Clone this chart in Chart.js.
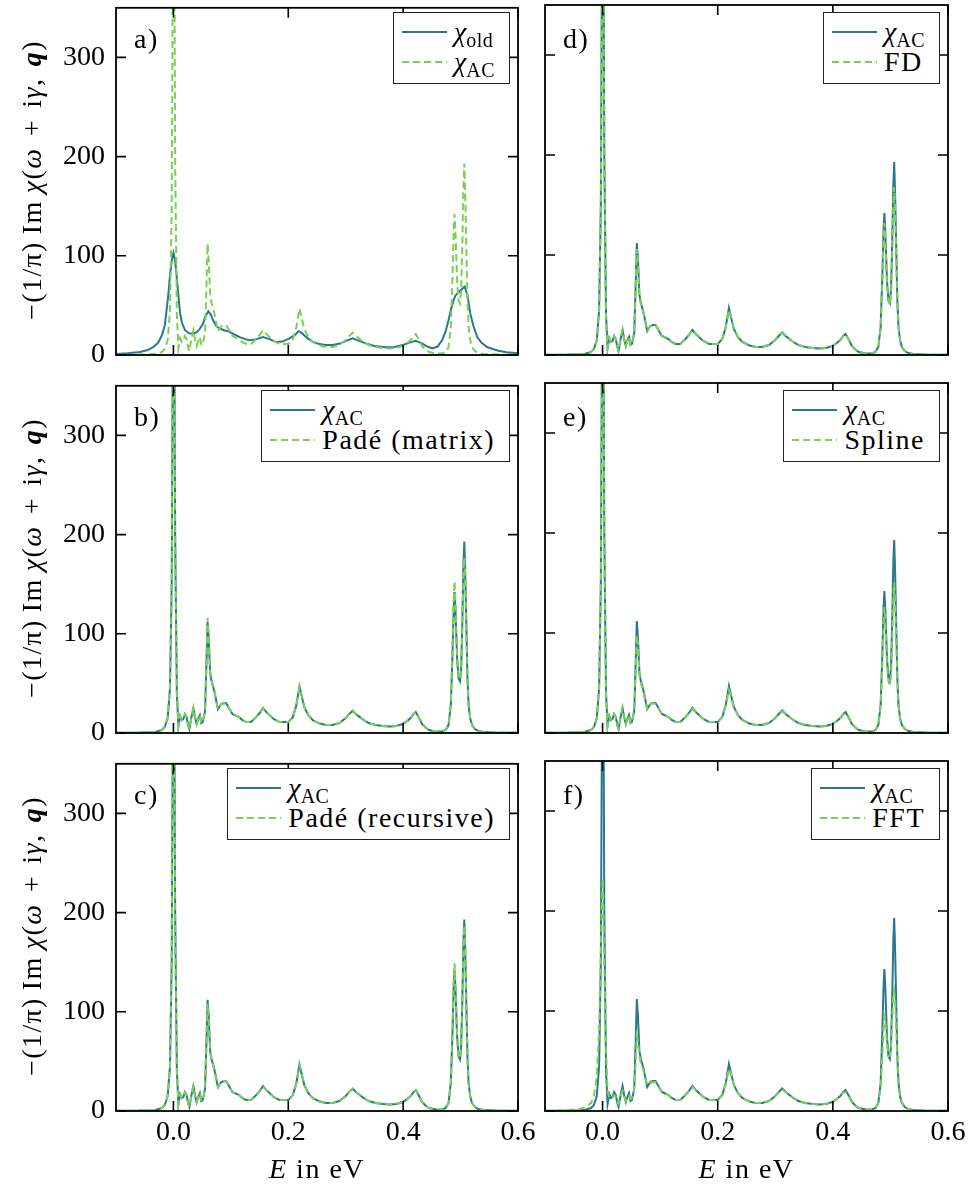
<!DOCTYPE html>
<html><head><meta charset="utf-8">
<script src="https://cdn.jsdelivr.net/npm/chart.js@4.4.1/dist/chart.umd.min.js"></script>
<style>
body{margin:0;background:#fff;}
#wrap{position:relative;width:973px;height:1190px;overflow:hidden;background:#fff;font-family:'Liberation Serif','DejaVu Serif',serif;color:#000;}
#wrap canvas{position:absolute;}
.txt{position:absolute;font-family:'Liberation Serif','DejaVu Serif',serif;font-size:28px;letter-spacing:1.5px;white-space:nowrap;z-index:5;}
.ytitle{position:absolute;font-family:'Liberation Serif','DejaVu Serif',serif;width:420px;height:34px;line-height:34px;text-align:center;font-size:28px;letter-spacing:1.4px;word-spacing:3px;white-space:nowrap;transform:rotate(-90deg);transform-origin:50% 50%;z-index:5;}
.legend{position:absolute;font-family:'Liberation Serif','DejaVu Serif',serif;background:#fff;border:1.5px solid #222;padding:4px 14px 6px 8px;z-index:6;font-size:28px;letter-spacing:1.5px;white-space:nowrap;}
.legend .row{display:flex;align-items:center;height:30px;}
.legend svg{margin-right:7px;flex:none;}
.legend span{font-family:'Liberation Serif','DejaVu Serif',serif;}
.chi{font-style:italic;letter-spacing:0;}
.sub{font-size:20px;position:relative;top:6px;letter-spacing:0.5px;}
</style></head><body><div id="wrap"></div>
<script>
// ---------------- data ----------------
const xTickValues = [0.0, 0.2, 0.4, 0.6];
const yTickValues = [0, 100, 200, 300];

const energy = [
 -0.1, -0.08, -0.06, -0.04, -0.03, -0.02, -0.015, -0.01, -0.006, -0.003,
 -0.001, 0.0, 0.001, 0.003, 0.006, 0.0087, 0.0116, 0.0145, 0.0173, 0.02,
 0.023, 0.0255, 0.0277, 0.031, 0.0347, 0.0375, 0.0404, 0.043, 0.046, 0.0485,
 0.051, 0.055, 0.0575, 0.0595, 0.0615, 0.064, 0.0665, 0.069, 0.072, 0.0775,
 0.083, 0.087, 0.092, 0.098, 0.103, 0.107, 0.1144, 0.12, 0.127, 0.135,
 0.144, 0.15, 0.156, 0.162, 0.1675, 0.175, 0.185, 0.2, 0.208, 0.214,
 0.2195, 0.223, 0.228, 0.235, 0.2427, 0.255, 0.2658, 0.277, 0.289, 0.3,
 0.306, 0.312, 0.318, 0.329, 0.34, 0.352, 0.365, 0.376, 0.388, 0.399,
 0.407, 0.413, 0.418, 0.422, 0.427, 0.433, 0.44, 0.445, 0.457, 0.468,
 0.474, 0.479, 0.483, 0.486, 0.488, 0.4895, 0.491, 0.494, 0.4965, 0.499,
 0.501, 0.503, 0.505, 0.5065, 0.508, 0.51, 0.512, 0.514, 0.517, 0.52,
 0.525, 0.531, 0.54, 0.56, 0.58, 0.6
];

const chiAC = [
 0.2, 0.3, 0.4, 0.8, 1.2, 3, 6, 15, 45, 150,
 400, 620, 500, 200, 40, 7, 17, 13, 14, 19,
 16, 8, 4, 15, 25, 16, 9, 14, 18, 10,
 11, 22, 70, 112, 95, 60, 52, 47, 40, 24,
 29, 30, 30, 24, 19, 18, 16, 13, 11, 11,
 16, 20, 25, 21, 18, 14, 11, 11, 16, 28,
 47, 38, 26, 18, 13, 9.5, 8, 8, 10, 15,
 19, 22.5, 19, 14, 10, 8, 7, 6.5, 7, 9,
 12, 15, 19, 21, 16, 9, 5, 3, 1.5, 1.5,
 3, 8, 28, 80, 125, 142, 125, 75, 55, 52,
 65, 110, 170, 193, 165, 110, 55, 28, 14, 8,
 4, 2, 1, 0.5, 0.3, 0.2
];

const padeMatrix = [
 0.2, 0.3, 0.4, 0.8, 1.2, 3, 6, 15, 45, 150,
 400, 620, 500, 200, 40, 7, 17, 13, 14, 19,
 16, 8, 4, 15, 25, 16, 9, 14, 18, 10,
 11, 22, 72, 116, 97, 61, 52, 47, 40, 24,
 29, 30, 30, 24, 19, 18, 16, 13, 11, 11,
 16, 20, 25, 21, 18, 14, 11, 11, 16, 28,
 46, 38, 26, 18, 13, 9.5, 8, 8, 10, 15,
 19, 22.5, 19, 14, 10, 8, 7, 6.5, 7, 9,
 12, 15, 19, 21, 16, 9, 5, 3, 1.5, 1.5,
 3, 8, 30, 88, 135, 153, 130, 78, 57, 54,
 65, 105, 160, 177, 160, 108, 55, 28, 14, 8,
 4, 2, 1, 0.5, 0.3, 0.2
];

const padeRecursive = [
 0.2, 0.3, 0.4, 0.8, 1.2, 3, 6, 15, 45, 150,
 400, 620, 500, 200, 40, 7, 17, 13, 14, 19,
 16, 8, 4, 15, 25, 16, 9, 14, 18, 10,
 11, 22, 68, 108, 93, 60, 52, 47, 40, 24,
 29, 30, 30, 24, 19, 18, 16, 13, 11, 11,
 16, 20, 25, 21, 18, 14, 11, 11, 16, 28,
 46, 38, 26, 18, 13, 9.5, 8, 8, 10, 15,
 19, 22.5, 19, 14, 10, 8, 7, 6.5, 7, 9,
 12, 15, 19, 21, 16, 9, 5, 3, 1.5, 1.5,
 3, 8, 29, 85, 132, 149, 130, 77, 56, 53,
 65, 108, 165, 187, 163, 110, 55, 28, 14, 8,
 4, 2, 1, 0.5, 0.3, 0.2
];

const finiteDiff = [
 0.2, 0.3, 0.4, 0.8, 1.2, 3, 6, 15, 45, 150,
 400, 620, 500, 200, 40, 7, 17, 13, 14, 19,
 16, 8, 4, 15, 25, 16, 9, 14, 18, 10,
 11, 22, 68, 106, 92, 59, 51, 46, 40, 24,
 29, 30, 30, 24, 19, 18, 16, 13, 11, 11,
 16, 20, 25, 21, 18, 14, 11, 11, 16, 28,
 45, 38, 26, 18, 13, 9.5, 8, 8, 10, 15,
 19, 22, 19, 14, 10, 8, 7, 6.5, 7, 9,
 12, 15, 19, 20.5, 16, 9, 5, 3, 1.5, 1.5,
 3, 8, 27, 76, 117, 132, 118, 72, 54, 50,
 60, 100, 150, 168, 150, 105, 55, 28, 14, 8,
 4, 2, 1, 0.5, 0.3, 0.2
];

const spline = [
 0.2, 0.3, 0.4, 0.8, 1.2, 3, 6, 15, 45, 150,
 400, 620, 500, 200, 40, 7, 17, 13, 14, 19,
 16, 8, 4, 15, 25, 16, 9, 14, 18, 10,
 11, 22, 64, 98, 88, 58, 50, 45, 39, 24,
 29, 30, 29, 24, 19, 18, 16, 13, 11, 11,
 16, 20, 24, 21, 18, 14, 11, 11, 16, 27,
 43, 37, 26, 18, 13, 9.5, 8, 8, 10, 15,
 19, 21.5, 19, 14, 10, 8, 7, 6.5, 7, 9,
 12, 15, 18.5, 20, 16, 9, 5, 3, 1.5, 1.5,
 3, 8, 26, 72, 110, 126, 112, 70, 52, 48,
 57, 92, 135, 150, 135, 98, 53, 28, 14, 8,
 4, 2, 1, 0.5, 0.3, 0.2
];

const fft = [
 0.3, 0.5, 1, 2, 4, 8, 15, 35, 80, 160,
 215, 232, 220, 150, 60, 20, 14, 12, 13, 16,
 14, 9, 7, 14, 20, 15, 10, 13, 15, 12,
 13, 22, 50, 75, 70, 55, 48, 44, 38, 26,
 28, 29, 29, 24, 19, 18, 16, 13, 11, 11,
 16, 20, 24, 21, 18, 14, 11, 11, 16, 27,
 42, 37, 26, 18, 13, 9.5, 8, 8, 10, 15,
 19, 21.5, 19, 14, 10, 8, 7, 6.5, 7, 9,
 12, 15, 18.5, 19, 16, 9, 5, 3, 1.5, 1.5,
 3, 8, 25, 55, 82, 95, 92, 68, 55, 55,
 65, 90, 115, 120, 112, 85, 50, 28, 14, 8,
 4, 2, 1, 0.5, 0.3, 0.2
];

const energyOld = [
 -0.1, -0.08, -0.058, -0.045, -0.035, -0.027, -0.02, -0.015, -0.012, -0.009,
 -0.0064, -0.003, 0.0, 0.003, 0.0058, 0.009, 0.0116, 0.015, 0.0202, 0.027,
 0.0347, 0.041, 0.0462, 0.051, 0.055, 0.0607, 0.065, 0.069, 0.075, 0.0809,
 0.088, 0.095, 0.105, 0.1155, 0.125, 0.133, 0.145, 0.156, 0.167, 0.179,
 0.19, 0.202, 0.211, 0.218, 0.224, 0.231, 0.242, 0.254, 0.265, 0.277,
 0.29, 0.302, 0.312, 0.322, 0.335, 0.35, 0.37, 0.385, 0.399, 0.411,
 0.422, 0.432, 0.442, 0.451, 0.46, 0.468, 0.474, 0.479, 0.485, 0.491,
 0.4997, 0.5072, 0.512, 0.517, 0.522, 0.529, 0.537, 0.546, 0.556, 0.566,
 0.58, 0.6
];

const chiOld = [
 1, 1.8, 3, 5, 8, 12, 20, 30, 45, 60,
 78, 95, 103, 95, 78, 58, 42, 32, 25, 22,
 21.7, 23, 26.7, 31, 38, 44, 41, 35, 29, 26.7,
 25, 24, 21, 18, 16, 15, 16, 18, 16, 13,
 13.5, 16.7, 20, 24, 22, 18, 13.5, 11, 10, 10,
 11.5, 14.5, 16.7, 14.5, 11.7, 9, 7.7, 8, 10, 12.5,
 14.3, 12, 8.5, 6.7, 8.5, 15, 24, 35, 50, 60,
 65, 69, 60, 41.7, 30, 18, 12, 8, 6, 4.3,
 2.8, 1.7
];

const panelLabels = ['a)', 'b)', 'c)', 'd)', 'e)', 'f)'];
const methodNames = ['Padé (matrix)', 'Padé (recursive)', 'FD', 'Spline', 'FFT'];

// ---------------- layout ----------------
const BLUE = '#2a788e', GREEN = '#7ad151';
const COLS = [{L:116, R:518}, {L:545, R:948}];
const ROWS = [{T:5, B:355}, {T:383, B:733}, {T:761, B:1111}];
const wrap = document.getElementById('wrap');

const frameTicks = {
  id: 'frameTicks',
  afterDraw(chart) {
    const {ctx, chartArea: a, scales: {x, y}} = chart;
    ctx.save();
    ctx.strokeStyle = '#000';
    ctx.lineWidth = 1.6;
    ctx.beginPath();
    for (const v of xTickValues) {
      const px = x.getPixelForValue(v);
      ctx.moveTo(px, a.bottom); ctx.lineTo(px, a.bottom - 10);
      ctx.moveTo(px, a.top); ctx.lineTo(px, a.top + 10);
    }
    for (const v of yTickValues) {
      const py = y.getPixelForValue(v);
      ctx.moveTo(a.left, py); ctx.lineTo(a.left + 10, py);
      ctx.moveTo(a.right, py); ctx.lineTo(a.right - 10, py);
    }
    ctx.stroke();
    ctx.lineWidth = 1.8;
    ctx.strokeRect(a.left, a.top, a.right - a.left, a.bottom - a.top);
    ctx.restore();
  }
};

function pts(xs, ys) { return xs.map((v, i) => ({x: v, y: ys[i]})); }

function makePanel(col, row, datasets) {
  const {L, R} = COLS[col], {T, B} = ROWS[row];
  const padL = 120, padT = 25, padR = 35, padB = 85;
  const c = document.createElement('canvas');
  const w = R - L + padL + padR, h = B - T + padT + padB;
  c.width = w; c.height = h;
  c.style.left = (L - padL) + 'px'; c.style.top = (T - padT) + 'px';
  c.style.width = w + 'px'; c.style.height = h + 'px';
  wrap.appendChild(c);
  const font = {family: "'Liberation Serif', serif", size: 28};
  new Chart(c, {
    type: 'line',
    data: {datasets},
    options: {
      responsive: false, animation: false, devicePixelRatio: 1,
      layout: {padding: {left: 0, top: padT, right: padR, bottom: 0}},
      plugins: {legend: {display: false}, tooltip: {enabled: false}},
      elements: {point: {radius: 0}, line: {tension: 0}},
      scales: {
        x: {
          type: 'linear', min: -0.1, max: 0.6,
          grid: {display: false, drawTicks: false},
          border: {display: false},
          afterBuildTicks: s => { s.ticks = xTickValues.map(v => ({value: v})); },
          afterFit: s => { s.height = padB; },
          ticks: {display: row === 2, font, color: '#000', padding: 5,
                  maxRotation: 0, autoSkip: false, callback: v => v.toFixed(1)}
        },
        y: {
          type: 'linear', min: 0, max: 350,
          grid: {display: false, drawTicks: false},
          border: {display: false},
          afterBuildTicks: s => { s.ticks = yTickValues.map(v => ({value: v})); },
          afterFit: s => { s.width = padL; },
          ticks: {display: col === 0, font, color: '#000', padding: 11,
                  autoSkip: false, callback: v => String(v)}
        }
      }
    },
    plugins: [frameTicks]
  });
}

function greenSet(xs, ys) {
  return {data: pts(xs, ys), borderColor: GREEN, borderWidth: 2, borderDash: [7, 4], fill: false};
}
function blueSet(xs, ys) {
  return {data: pts(xs, ys), borderColor: BLUE, borderWidth: 2, fill: false};
}

function addText(html, left, top, cls) {
  const d = document.createElement('div');
  d.className = cls || 'txt';
  d.innerHTML = html;
  d.style.left = left + 'px'; d.style.top = top + 'px';
  wrap.appendChild(d);
  return d;
}

const solidSample = `<svg width="45" height="8"><line x1="0" y1="4" x2="45" y2="4" stroke="${BLUE}" stroke-width="2"/></svg>`;
const dashSample = `<svg width="45" height="8"><line x1="0" y1="4" x2="45" y2="4" stroke="${GREEN}" stroke-width="2" stroke-dasharray="7 4"/></svg>`;
const chiSub = s => `<span class="chi">χ</span><span class="sub">${s}</span>`;

function addLegend(col, row, rows) {
  const {R} = COLS[col], {T} = ROWS[row];
  const d = document.createElement('div');
  d.className = 'legend';
  d.innerHTML = rows.map(r => `<div class="row">${r[0] === 'solid' ? solidSample : dashSample}<span>${r[1]}</span></div>`).join('');
  d.style.right = (973 - (R - 8)) + 'px';
  d.style.top = (T + 7) + 'px';
  wrap.appendChild(d);
}

// panel a
makePanel(0, 0, [greenSet(energy, chiAC), blueSet(energyOld, chiOld)]);
addLegend(0, 0, [['solid', chiSub('old')], ['dash', chiSub('AC')]]);

const methodData = [padeMatrix, padeRecursive, finiteDiff, spline, fft];
const methodPos = [[0, 1], [0, 2], [1, 0], [1, 1], [1, 2]];
methodData.forEach((ys, i) => {
  const [col, row] = methodPos[i];
  makePanel(col, row, [greenSet(energy, ys), blueSet(energy, chiAC)]);
  addLegend(col, row, [['solid', chiSub('AC')], ['dash', methodNames[i]]]);
});

// panel labels
const labelPos = [[0, 0], [0, 1], [0, 2], [1, 0], [1, 1], [1, 2]];
panelLabels.forEach((t, i) => {
  const [col, row] = labelPos[i];
  addText(t, COLS[col].L + 18, ROWS[row].T + 18);
});

// y titles
ROWS.forEach(r => {
  const cy = (r.T + r.B) / 2;
  addText('−(1/π)&thinsp;Im&thinsp;<i>χ</i>(<i>ω</i> + i<i>γ</i>, <b><i>q</i></b>)', 32 - 210, cy - 17, 'ytitle');
});

// x titles
COLS.forEach(cObj => {
  const cx = (cObj.L + cObj.R) / 2;
  const d = addText('<i>E</i> in eV', 0, 1153);
  d.style.left = (cx - d.offsetWidth / 2) + 'px';
});
</script></body></html>
